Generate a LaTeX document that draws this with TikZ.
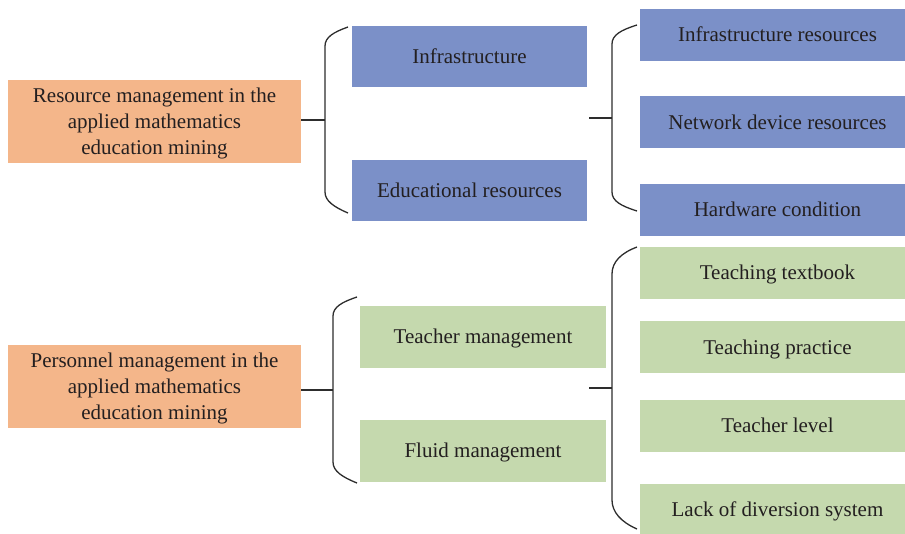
\documentclass[tikz,border=0pt]{standalone}
\usepackage{fontspec}
\setmainfont{Liberation Serif}
\definecolor{orangefill}{RGB}{244,182,138}
\definecolor{bluefill}{RGB}{123,144,200}
\definecolor{greenfill}{RGB}{197,217,174}
\definecolor{inktext}{RGB}{35,31,32}
\definecolor{inkline}{RGB}{45,45,45}
\begin{document}
\begin{tikzpicture}[x=1pt,y=-1pt,
  box/.style={rectangle, draw=none, inner sep=0pt, align=center, text depth=0pt,
    text=inktext, font=\fontsize{21}{26}\selectfont},
  rootbox/.style={box, fill=orangefill, minimum width=293pt, minimum height=83pt},
  bluebox/.style={box, fill=bluefill},
  greenbox/.style={box, fill=greenfill},
  midbox/.style={minimum width=235pt, minimum height=61pt},
  midboxg/.style={minimum width=246pt, minimum height=62pt},
  leafbox/.style={minimum width=275pt, minimum height=52pt},
  link/.style={draw=inkline, line width=1.6pt},
  brace/.style={draw=inkline, line width=1.3pt}]
\useasboundingbox (0,0) rectangle (905,533);

% upper block: resources
\node[rootbox] (res) at (154.5,121) {Resource management in the\\applied mathematics\\education mining};
\node[bluebox,midbox] (infra) at (469.5,56) {Infrastructure};
\node[bluebox,midbox] (edu) at (469.5,190) {Educational resources};
\node[bluebox,leafbox] (ir) at (777.5,34.5) {Infrastructure resources};
\node[bluebox,leafbox] (nd) at (777.5,122) {Network device resources};
\node[bluebox,leafbox] (hc) at (777.5,209.5) {Hardware condition};

% lower block: personnel
\node[rootbox] (pers) at (154.5,386) {Personnel management in the\\applied mathematics\\education mining};
\node[greenbox,midboxg] (tm) at (483,336.5) {Teacher management};
\node[greenbox,midboxg] (fm) at (483,450.5) {Fluid management};
\node[greenbox,leafbox] (tt) at (777.5,272.5) {Teaching textbook};
\node[greenbox,leafbox] (tp) at (777.5,347) {Teaching practice};
\node[greenbox,leafbox] (tl) at (777.5,425.5) {Teacher level};
\node[greenbox,leafbox] (ld) at (777.5,509.5) {Lack of diversion system};

% brace 1: root -> infrastructure / educational resources
\coordinate (b1) at (325,120);
\draw[link] (res.east |- b1) -- (b1);
\draw[brace] (348,27) .. controls (334,32) and (325,37) .. (325,46) -- (325,192)
  .. controls (325,201) and (334,207) .. (348,213);

% brace 2: resources -> leaf resources
\coordinate (b2s) at (589,118);
\coordinate (b2) at (612,118);
\draw[link] (b2s) -- (b2);
\draw[brace] (637,25) .. controls (621,30) and (612,35) .. (612,44) -- (612,192)
  .. controls (612,201) and (621,206) .. (637,211);

% brace 3: root -> teacher / fluid management
\coordinate (b3) at (333,390);
\draw[link] (pers.east |- b3) -- (b3);
\draw[brace] (357,297) .. controls (342,302) and (333,307) .. (333,316) -- (333,462)
  .. controls (333,471) and (342,477) .. (357,483);

% brace 4: personnel -> leaf items
\coordinate (b4s) at (589,388);
\coordinate (b4) at (612,388);
\draw[link] (b4s) -- (b4);
\draw[brace] (637,247) .. controls (621,253) and (612,262) .. (612,274) -- (612,500)
  .. controls (612,512) and (621,522) .. (637,529);
\end{tikzpicture}
\end{document}
